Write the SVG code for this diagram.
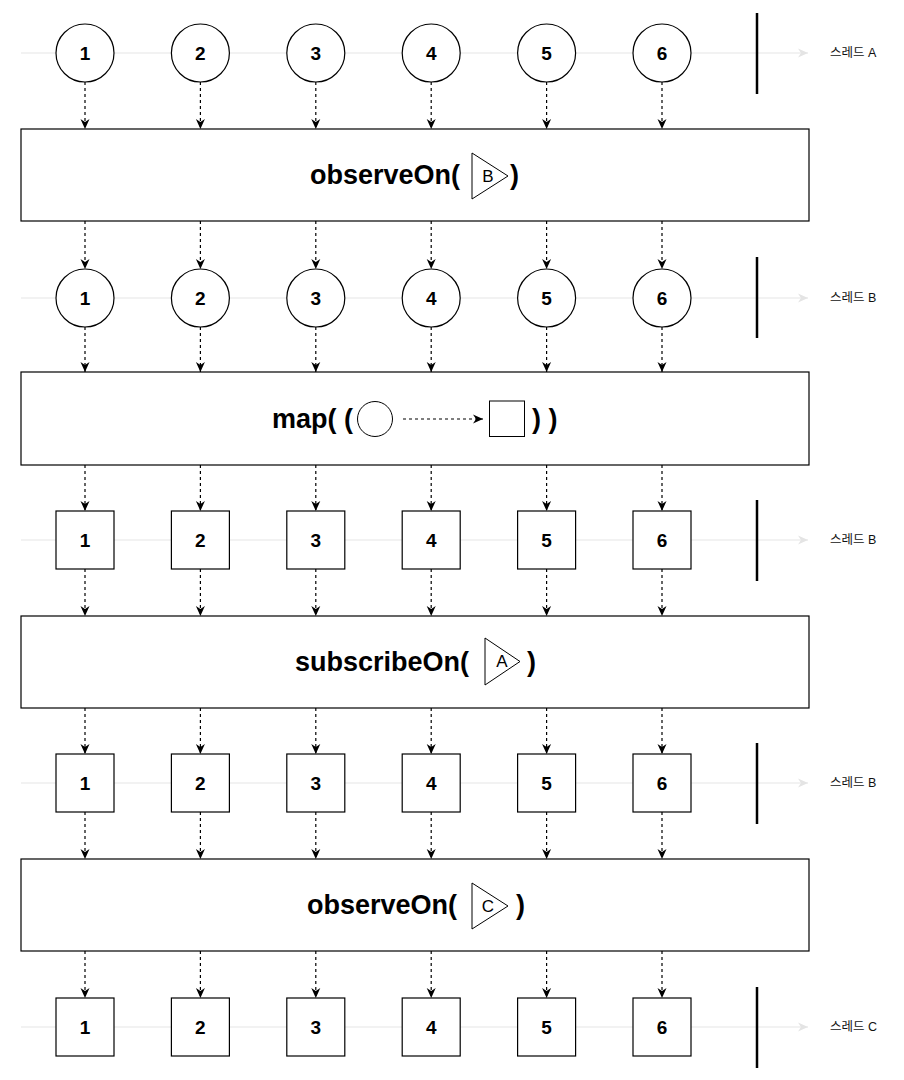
<svg xmlns="http://www.w3.org/2000/svg" width="904" height="1080" viewBox="0 0 904 1080">
<style>
.bg{fill:#ffffff}
.tl{stroke:#eeeeee;stroke-width:1.5;fill:none}
.bar{stroke:#000;stroke-width:2.5}
.node{fill:#fff;stroke:#000;stroke-width:1.2}
.num{font-family:"Liberation Sans",Arial,sans-serif;font-weight:bold;font-size:19px;fill:#000;text-anchor:middle}
.op{font-family:"Liberation Sans",Arial,sans-serif;font-weight:bold;font-size:27px;fill:#000}
.sch{font-family:"Liberation Sans",Arial,sans-serif;font-size:17px;fill:#000;text-anchor:middle}
.thr{font-family:"Liberation Sans","Noto Sans CJK KR",sans-serif;font-size:12.5px;fill:#111}
.dash{stroke:#000;stroke-width:1.2;stroke-dasharray:3 3;fill:none;marker-end:url(#ah)}
.tri{fill:#fff;stroke:#000;stroke-width:1}
</style>
<defs>
<marker id="ah" viewBox="0 0 10 10" refX="10" refY="5" markerWidth="10" markerHeight="10" markerUnits="userSpaceOnUse" orient="auto">
<path d="M0,0.5 L10,5 L0,9.5 L3,5 z" fill="#000"/>
</marker>
<marker id="gh" viewBox="0 0 10 10" refX="10" refY="5" markerWidth="10" markerHeight="10" markerUnits="userSpaceOnUse" orient="auto">
<path d="M0,0.5 L10,5 L0,9.5 L3,5 z" fill="#e4e4e4"/>
</marker>
</defs>
<rect class="bg" x="0" y="0" width="904" height="1080"/>

<g id="timelines">
<path class="tl" d="M21,53 H808" marker-end="url(#gh)"/>
<path class="tl" d="M21,298 H808" marker-end="url(#gh)"/>
<path class="tl" d="M21,540 H808" marker-end="url(#gh)"/>
<path class="tl" d="M21,783 H808" marker-end="url(#gh)"/>
<path class="tl" d="M21,1027 H808" marker-end="url(#gh)"/>
<line class="bar" x1="757" y1="13" x2="757" y2="94"/>
<line class="bar" x1="757" y1="257" x2="757" y2="338"/>
<line class="bar" x1="757" y1="500" x2="757" y2="581"/>
<line class="bar" x1="757" y1="743" x2="757" y2="824"/>
<line class="bar" x1="757" y1="987" x2="757" y2="1068"/>
<text class="thr" x="830" y="57">스레드 A</text>
<text class="thr" x="830" y="302">스레드 B</text>
<text class="thr" x="830" y="544">스레드 B</text>
<text class="thr" x="830" y="787">스레드 B</text>
<text class="thr" x="830" y="1031">스레드 C</text>
</g>

<g id="connectors">
<line class="dash" x1="85" y1="82" x2="85" y2="129"/><line class="dash" x1="200.4" y1="82" x2="200.4" y2="129"/><line class="dash" x1="315.8" y1="82" x2="315.8" y2="129"/><line class="dash" x1="431.2" y1="82" x2="431.2" y2="129"/><line class="dash" x1="546.6" y1="82" x2="546.6" y2="129"/><line class="dash" x1="662" y1="82" x2="662" y2="129"/>
<line class="dash" x1="85" y1="221" x2="85" y2="269"/><line class="dash" x1="200.4" y1="221" x2="200.4" y2="269"/><line class="dash" x1="315.8" y1="221" x2="315.8" y2="269"/><line class="dash" x1="431.2" y1="221" x2="431.2" y2="269"/><line class="dash" x1="546.6" y1="221" x2="546.6" y2="269"/><line class="dash" x1="662" y1="221" x2="662" y2="269"/>
<line class="dash" x1="85" y1="327" x2="85" y2="372"/><line class="dash" x1="200.4" y1="327" x2="200.4" y2="372"/><line class="dash" x1="315.8" y1="327" x2="315.8" y2="372"/><line class="dash" x1="431.2" y1="327" x2="431.2" y2="372"/><line class="dash" x1="546.6" y1="327" x2="546.6" y2="372"/><line class="dash" x1="662" y1="327" x2="662" y2="372"/>
<line class="dash" x1="85" y1="465" x2="85" y2="511"/><line class="dash" x1="200.4" y1="465" x2="200.4" y2="511"/><line class="dash" x1="315.8" y1="465" x2="315.8" y2="511"/><line class="dash" x1="431.2" y1="465" x2="431.2" y2="511"/><line class="dash" x1="546.6" y1="465" x2="546.6" y2="511"/><line class="dash" x1="662" y1="465" x2="662" y2="511"/>
<line class="dash" x1="85" y1="569" x2="85" y2="616"/><line class="dash" x1="200.4" y1="569" x2="200.4" y2="616"/><line class="dash" x1="315.8" y1="569" x2="315.8" y2="616"/><line class="dash" x1="431.2" y1="569" x2="431.2" y2="616"/><line class="dash" x1="546.6" y1="569" x2="546.6" y2="616"/><line class="dash" x1="662" y1="569" x2="662" y2="616"/>
<line class="dash" x1="85" y1="708" x2="85" y2="754"/><line class="dash" x1="200.4" y1="708" x2="200.4" y2="754"/><line class="dash" x1="315.8" y1="708" x2="315.8" y2="754"/><line class="dash" x1="431.2" y1="708" x2="431.2" y2="754"/><line class="dash" x1="546.6" y1="708" x2="546.6" y2="754"/><line class="dash" x1="662" y1="708" x2="662" y2="754"/>
<line class="dash" x1="85" y1="812" x2="85" y2="859"/><line class="dash" x1="200.4" y1="812" x2="200.4" y2="859"/><line class="dash" x1="315.8" y1="812" x2="315.8" y2="859"/><line class="dash" x1="431.2" y1="812" x2="431.2" y2="859"/><line class="dash" x1="546.6" y1="812" x2="546.6" y2="859"/><line class="dash" x1="662" y1="812" x2="662" y2="859"/>
<line class="dash" x1="85" y1="951" x2="85" y2="998"/><line class="dash" x1="200.4" y1="951" x2="200.4" y2="998"/><line class="dash" x1="315.8" y1="951" x2="315.8" y2="998"/><line class="dash" x1="431.2" y1="951" x2="431.2" y2="998"/><line class="dash" x1="546.6" y1="951" x2="546.6" y2="998"/><line class="dash" x1="662" y1="951" x2="662" y2="998"/>
</g>

<g id="row1">
<g id="r1n1"><circle class="node" cx="85" cy="53" r="29"/><text class="num" x="85" y="60">1</text></g>
<g id="r1n2"><circle class="node" cx="200.4" cy="53" r="29"/><text class="num" x="200.4" y="60">2</text></g>
<g id="r1n3"><circle class="node" cx="315.8" cy="53" r="29"/><text class="num" x="315.8" y="60">3</text></g>
<g id="r1n4"><circle class="node" cx="431.2" cy="53" r="29"/><text class="num" x="431.2" y="60">4</text></g>
<g id="r1n5"><circle class="node" cx="546.6" cy="53" r="29"/><text class="num" x="546.6" y="60">5</text></g>
<g id="r1n6"><circle class="node" cx="662" cy="53" r="29"/><text class="num" x="662" y="60">6</text></g>
</g>

<g id="op1">
<rect class="node" x="21" y="129" width="788" height="92"/>
<text class="op" x="310" y="184">observeOn(</text>
<polygon class="tri" points="472,153 472,199 508,176"/>
<text class="sch" x="488" y="182">B</text>
<text class="op" x="510" y="184">)</text>
</g>

<g id="row2">
<g id="r2n1"><circle class="node" cx="85" cy="298" r="29"/><text class="num" x="85" y="305">1</text></g>
<g id="r2n2"><circle class="node" cx="200.4" cy="298" r="29"/><text class="num" x="200.4" y="305">2</text></g>
<g id="r2n3"><circle class="node" cx="315.8" cy="298" r="29"/><text class="num" x="315.8" y="305">3</text></g>
<g id="r2n4"><circle class="node" cx="431.2" cy="298" r="29"/><text class="num" x="431.2" y="305">4</text></g>
<g id="r2n5"><circle class="node" cx="546.6" cy="298" r="29"/><text class="num" x="546.6" y="305">5</text></g>
<g id="r2n6"><circle class="node" cx="662" cy="298" r="29"/><text class="num" x="662" y="305">6</text></g>
</g>

<g id="op2">
<rect class="node" x="21" y="372" width="788" height="93"/>
<text class="op" x="272" y="428">map( (</text>
<circle class="tri" cx="375" cy="419" r="17.5"/>
<line class="dash" x1="403" y1="419" x2="483" y2="419"/>
<rect class="tri" x="489.5" y="401" width="35" height="35.5"/>
<text class="op" x="532" y="428">) )</text>
</g>

<g id="row3">
<g id="r3n1"><rect class="node" x="56" y="511" width="58" height="58"/><text class="num" x="85" y="547">1</text></g>
<g id="r3n2"><rect class="node" x="171.4" y="511" width="58" height="58"/><text class="num" x="200.4" y="547">2</text></g>
<g id="r3n3"><rect class="node" x="286.8" y="511" width="58" height="58"/><text class="num" x="315.8" y="547">3</text></g>
<g id="r3n4"><rect class="node" x="402.2" y="511" width="58" height="58"/><text class="num" x="431.2" y="547">4</text></g>
<g id="r3n5"><rect class="node" x="517.6" y="511" width="58" height="58"/><text class="num" x="546.6" y="547">5</text></g>
<g id="r3n6"><rect class="node" x="633" y="511" width="58" height="58"/><text class="num" x="662" y="547">6</text></g>
</g>

<g id="op3">
<rect class="node" x="21" y="616" width="788" height="92"/>
<text class="op" x="295" y="671">subscribeOn(</text>
<polygon class="tri" points="485,638 485,685 520,661.5"/>
<text class="sch" x="502" y="667">A</text>
<text class="op" x="527" y="671">)</text>
</g>

<g id="row4">
<g id="r4n1"><rect class="node" x="56" y="754" width="58" height="58"/><text class="num" x="85" y="790">1</text></g>
<g id="r4n2"><rect class="node" x="171.4" y="754" width="58" height="58"/><text class="num" x="200.4" y="790">2</text></g>
<g id="r4n3"><rect class="node" x="286.8" y="754" width="58" height="58"/><text class="num" x="315.8" y="790">3</text></g>
<g id="r4n4"><rect class="node" x="402.2" y="754" width="58" height="58"/><text class="num" x="431.2" y="790">4</text></g>
<g id="r4n5"><rect class="node" x="517.6" y="754" width="58" height="58"/><text class="num" x="546.6" y="790">5</text></g>
<g id="r4n6"><rect class="node" x="633" y="754" width="58" height="58"/><text class="num" x="662" y="790">6</text></g>
</g>

<g id="op4">
<rect class="node" x="21" y="859" width="788" height="92"/>
<text class="op" x="307" y="914">observeOn(</text>
<polygon class="tri" points="472,883 472,929 508,906"/>
<text class="sch" x="488" y="912">C</text>
<text class="op" x="516" y="914">)</text>
</g>

<g id="row5">
<g id="r5n1"><rect class="node" x="56" y="998" width="58" height="58"/><text class="num" x="85" y="1034">1</text></g>
<g id="r5n2"><rect class="node" x="171.4" y="998" width="58" height="58"/><text class="num" x="200.4" y="1034">2</text></g>
<g id="r5n3"><rect class="node" x="286.8" y="998" width="58" height="58"/><text class="num" x="315.8" y="1034">3</text></g>
<g id="r5n4"><rect class="node" x="402.2" y="998" width="58" height="58"/><text class="num" x="431.2" y="1034">4</text></g>
<g id="r5n5"><rect class="node" x="517.6" y="998" width="58" height="58"/><text class="num" x="546.6" y="1034">5</text></g>
<g id="r5n6"><rect class="node" x="633" y="998" width="58" height="58"/><text class="num" x="662" y="1034">6</text></g>
</g>
</svg>
